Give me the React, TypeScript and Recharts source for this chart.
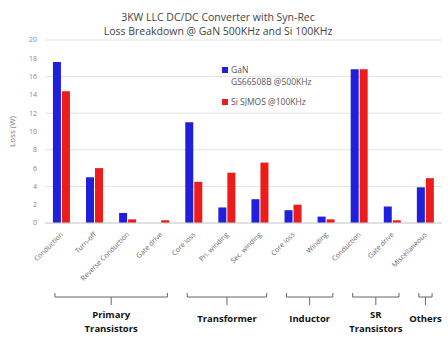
import React from "react";
import { BarChart, Bar, XAxis, YAxis, CartesianGrid, Legend } from "recharts";

const categories = [
  "Conduction",
  "Turn-off",
  "Reverse Conduction",
  "Gate drive",
  "Core loss",
  "Pri. winding",
  "Sec. winding",
  "Core loss",
  "Winding",
  "Conduction",
  "Gate drive",
  "Miscellaneous",
];
const ganLoss = [17.6, 5.0, 1.1, 0, 11.0, 1.7, 2.6, 1.4, 0.7, 16.8, 1.8, 3.9];
const siLoss = [14.4, 6.0, 0.4, 0.3, 4.5, 5.5, 6.6, 2.0, 0.4, 16.8, 0.3, 4.9];
const yTicks = [0, 2, 4, 6, 8, 10, 12, 14, 16, 18, 20];
const groups = [
  { lines: ["Primary", "Transistors"], start: 0, end: 3 },
  { lines: ["Transformer"], start: 4, end: 6 },
  { lines: ["Inductor"], start: 7, end: 8 },
  { lines: ["SR", "Transistors"], start: 9, end: 10 },
  { lines: ["Others"], start: 11, end: 11 },
];
const titleLines = [
  "3KW LLC DC/DC Converter with Syn-Rec",
  "Loss Breakdown @ GaN 500KHz and Si 100KHz",
];
const series = [
  { key: "gan", lines: ["GaN", "GS66508B @500KHz"], color: "#1f1fdc" },
  { key: "si", lines: ["Si SJMOS @100KHz"], color: "#ee1b1b" },
];

const data = categories.map((name, i) => ({
  name,
  gan: ganLoss[i],
  si: siLoss[i],
}));

const W = 448;
const H = 338;
const MARGIN = { top: 40, right: 6, bottom: 0, left: 0 };
const Y_W = 45;
const PLOT_W = W - MARGIN.left - MARGIN.right - Y_W;
const STEP = PLOT_W / categories.length;
const FONT = "'Open Sans', 'Liberation Sans', sans-serif";

const XTick = (props: any) => {
  const { x, y, payload, index } = props;
  const group = groups.find((g) => g.start === index);
  let bracket: React.ReactNode = null;
  if (group) {
    const x1 = x - 0.2 * STEP;
    const x2 = x + (group.end - group.start) * STEP + 0.2 * STEP;
    const mid = (x1 + x2) / 2;
    const by = y + 66;
    bracket = (
      <g>
        <path
          d={`M${x1},${by - 4} L${x1},${by} L${x2},${by} L${x2},${by - 4} M${mid},${by} L${mid},${by + 8}`}
          stroke="#666"
          strokeWidth={1}
          fill="none"
        />
        {group.lines.map((ln, i) => (
          <text
            key={i}
            x={mid}
            y={by + (group.lines.length === 1 ? 25 : 21 + i * 14)}
            textAnchor="middle"
            fontSize={9.5}
            fontWeight="bold"
            fill="#111"
            fontFamily={FONT}
          >
            {ln}
          </text>
        ))}
      </g>
    );
  }
  return (
    <g>
      <text
        x={x + 2}
        y={y + 4}
        textAnchor="end"
        fontSize={7}
        fill="#666"
        fontFamily={FONT}
        transform={`rotate(-45, ${x + 2}, ${y + 4})`}
      >
        {payload.value}
      </text>
      {bracket}
    </g>
  );
};

const LegendContent = () => (
  <div style={{ fontFamily: FONT, fontSize: 8.5, color: "#555", lineHeight: "12px" }}>
    {series.map((s, i) => (
      <div key={s.key} style={{ marginBottom: i === 0 ? 8 : 0 }}>
        {s.lines.map((ln, j) => (
          <div key={j} style={{ display: "flex", alignItems: "center", whiteSpace: "nowrap" }}>
            <span
              style={{
                display: "inline-block",
                width: 6,
                height: 6,
                background: j === 0 ? s.color : "transparent",
                marginRight: 3,
              }}
            />
            {ln}
          </div>
        ))}
      </div>
    ))}
  </div>
);

export default function App() {
  return (
    <div style={{ position: "absolute", left: 0, top: 0, width: W, height: H, background: "#fff" }}>
      <div
        style={{
          position: "absolute",
          left: 0,
          top: 10,
          width: 436,
          textAlign: "center",
          fontFamily: FONT,
          fontSize: 10.5,
          color: "#444",
          lineHeight: "14px",
          whiteSpace: "nowrap",
        }}
      >
        {titleLines.map((t, i) => (
          <div key={i}>{t}</div>
        ))}
      </div>
      <BarChart
        width={W}
        height={H}
        data={data}
        margin={MARGIN}
        barCategoryGap="24%"
        barGap={1}
      >
        <CartesianGrid vertical={false} stroke="#e2e2e2" />
        <XAxis
          dataKey="name"
          interval={0}
          height={115}
          tickLine={false}
          axisLine={{ stroke: "#d0d0d0" }}
          tick={<XTick />}
        />
        <YAxis
          width={Y_W}
          domain={[0, 20]}
          ticks={yTicks}
          tickLine={false}
          axisLine={false}
          tick={{ fontSize: 7, fill: "#888", fontFamily: FONT }}
          label={{
            value: "Loss (W)",
            angle: -90,
            position: "insideLeft",
            offset: 12,
            style: { fontSize: 8, fill: "#777", fontFamily: FONT, textAnchor: "middle" },
          }}
        />
        <Legend
          content={<LegendContent />}
          layout="horizontal"
          verticalAlign="middle"
          align="center"
          wrapperStyle={{ position: "absolute", left: 222, top: 64, width: 130 }}
        />
        {series.map((s) => (
          <Bar key={s.key} dataKey={s.key} fill={s.color} isAnimationActive={false} />
        ))}
      </BarChart>
    </div>
  );
}
